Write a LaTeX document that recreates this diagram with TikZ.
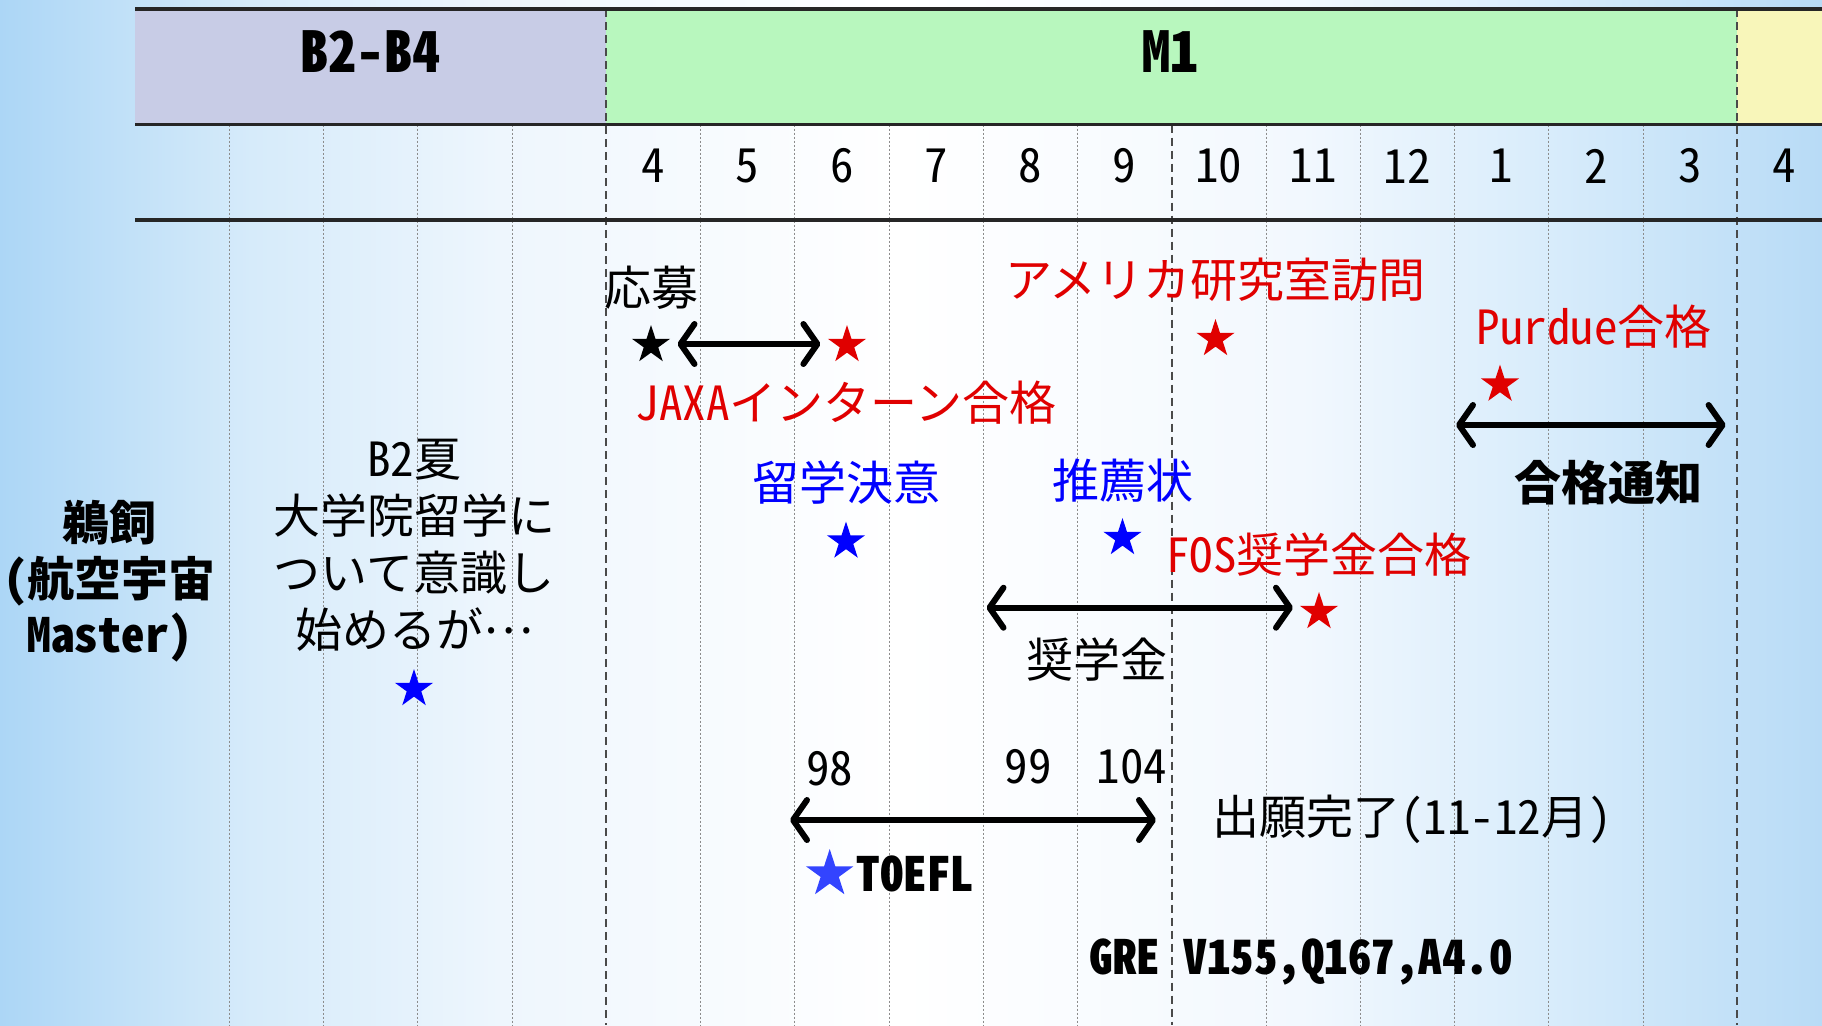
\documentclass[tikz,border=0pt]{standalone}
\usepackage{fontspec}
\usetikzlibrary{shapes.geometric,arrows.meta}
\newfontfamily\jp[RawFeature=+hwid]{Noto Sans CJK JP}
\definecolor{jred}{HTML}{E00000}
\definecolor{jblue}{HTML}{0000FF}
\definecolor{tblue}{HTML}{3344FF}
\definecolor{hdrA}{HTML}{C8CCE6}
\definecolor{hdrB}{HTML}{B8F7BE}
\definecolor{hdrC}{HTML}{F8F6BA}
\definecolor{bgL}{HTML}{ACD6F6}
\definecolor{bgL2}{HTML}{D6EBFA}
\definecolor{bgL3}{HTML}{EEF6FD}
\definecolor{bgR3}{HTML}{F2F8FE}
\definecolor{bgR2}{HTML}{D8ECFB}
\definecolor{bgR}{HTML}{B8DBF6}
\definecolor{gridgray}{HTML}{8C8C8C}
\definecolor{dashgray}{HTML}{4A4A4A}
\pgfdeclarehorizontalshading{bgshade}{100bp}{color(0bp)=(bgL); color(25bp)=(bgL); color(31.9bp)=(bgL2); color(38.7bp)=(bgL3); color(49.7bp)=(white); color(60.7bp)=(bgR3); color(67.5bp)=(bgR2); color(75bp)=(bgR); color(100bp)=(bgR)}
\tikzset{
  base/.style={inner sep=0pt, align=center, font=\jp\fontsize{23.5}{28.5}\selectfont},
  boldtxt/.style={inner sep=0pt, align=center, font=\jp\bfseries\fontsize{23.5}{28}\selectfont},
  hdr/.style={inner sep=0pt, font=\jp\bfseries\fontsize{28}{32}\selectfont},
  starmk/.style={shape=star, star points=5, star point ratio=2.618, minimum size=20pt, inner sep=0pt, fill=#1, draw=none},
  dbl/.style={{Straight Barb[length=7pt,width=20pt,round]}-{Straight Barb[length=7pt,width=20pt,round]}, line width=3pt, draw=black},
  thingrid/.style={draw=gridgray, line width=0.5pt, dash pattern=on 1pt off 1pt},
  divline/.style={draw=dashgray, line width=0.9pt, dash pattern=on 4pt off 2.5pt},
  rulel/.style={draw=black!85, line width=1.8pt}
}
\begin{document}
\begin{tikzpicture}[x=0.5pt,y=-0.5pt]
\useasboundingbox (0,0) rectangle (1822,1025);
\shade[shading=bgshade] (0,0) rectangle (1822,1025);
% header fills
\fill[hdrA] (135,9) rectangle (605.6,124.5);
\fill[hdrB] (605.6,9) rectangle (1737.3,124.5);
\fill[hdrC] (1737.3,9) rectangle (1822,124.5);
% thin grid lines
\foreach \k in {1,2,3,4,6,7,8,9,10,12,13,14,15,16}{
  \draw[thingrid] ({135+\k*94.25},124.5) -- ({135+\k*94.25},1025);
}
% dashed dividers
\draw[divline] ({135+5*94.25},9) -- ({135+5*94.25},1025);
\draw[divline] ({135+17*94.25},9) -- ({135+17*94.25},1025);
\draw[divline] ({135+11*94.25},124.5) -- ({135+11*94.25},1025);
% horizontal rules
\draw[rulel] (135,9) -- (1822,9);
\draw[rulel] (135,124.5) -- (1822,124.5);
\draw[rulel] (135,220) -- (1822,220);
% header labels
\node[hdr] (hB) at (370,52) {B2-B4};
\node[hdr] (hM) at (1170,52) {M1};
% months
\foreach \k/\m in {5/4,6/5,7/6,8/7,9/8,10/9,11/10,12/11,13/12,14/1,15/2,16/3,17/4}{
  \node[base] (m\k) at ({135+(\k+0.5)*94.25},166) {\m};
}
% left label
\node[boldtxt] (who) at (110,581) {鵜飼\\(航空宇宙\\Master)};
% B2 summer
\node[base] (b2) at (414,545) {B2夏\\大学院留学に\\ついて意識し\\始めるが\raisebox{0.3em}{…}};
\node[starmk=jblue] (sb2) at (414,689) {};
% JAXA
\node[base] (oubo) at (651,288) {応募};
\node[starmk=black] (sk) at (651,345) {};
\node[starmk=jred] (sr1) at (847,345) {};
\coordinate (a1s) at (677.5,344);
\coordinate (a1e) at (820.4,344);
\draw[dbl] (a1s) -- (a1e);
\node[base, text=jred] (jaxa) at (846,403) {JAXAインターン合格};
% US lab visit
\node[base, text=jred] (visit) at (1215.5,280) {アメリカ研究室訪問};
\node[starmk=jred] (sr2) at (1215.5,339) {};
% Purdue
\node[base, text=jred] (purdue) at (1594,326.5) {Purdue合格};
\node[starmk=jred] (sr3) at (1500,384.6) {};
\coordinate (a2s) at (1456,425);
\coordinate (a2e) at (1725.6,425);
\draw[dbl] (a2s) -- (a2e);
\node[boldtxt] (tsuchi) at (1608,483) {合格通知};
% decision
\node[base, text=jblue] (kettei) at (846,483) {留学決意};
\node[starmk=jblue] (sb1) at (846,541.5) {};
\node[base, text=jblue] (suisen) at (1122.5,481) {推薦状};
\node[starmk=jblue] (sb3) at (1122.5,538) {};
% scholarship
\node[base, text=jred] (fos) at (1319,555) {FOS奨学金合格};
\coordinate (a3s) at (986.5,607.7);
\coordinate (a3e) at (1293,607.7);
\draw[dbl] (a3s) -- (a3e);
\node[starmk=jred] (sr4) at (1319,612) {};
\node[base] (shogaku) at (1097,660) {奨学金};
% TOEFL
\node[base] (s98) at (829.7,769) {98};
\node[base] (s99) at (1028,767) {99};
\node[base] (s104) at (1131.8,767) {104};
\coordinate (a4s) at (790,820);
\coordinate (a4e) at (1156,820);
\draw[dbl] (a4s) -- (a4e);
\node[base] (shutsugan) at (1412,819) {出願完了(11-12月)};
\node[starmk=tblue, minimum size=25pt] (st) at (829.7,874) {};
\node[boldtxt] (toefl) at (915.7,874) {TOEFL};
\node[boldtxt] (gre) at (1301.4,962) {GRE V155,Q167,A4.0};
\end{tikzpicture}
\end{document}
